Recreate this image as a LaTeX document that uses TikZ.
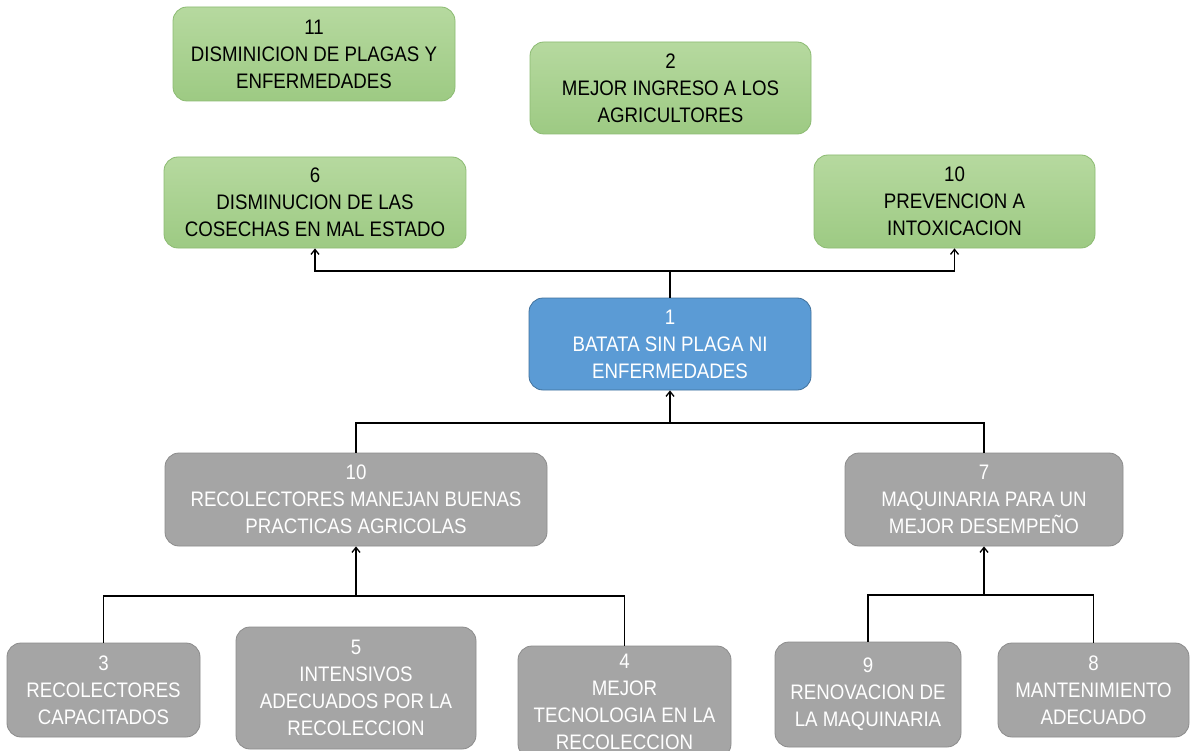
\documentclass[tikz,border=0pt]{standalone}
\usepackage{fontspec}
\setmainfont{Liberation Sans}[FakeStretch=0.89]
\usetikzlibrary{arrows.meta}
\definecolor{gtop}{HTML}{B6D99F}
\definecolor{gbot}{HTML}{9DCA83}
\definecolor{gdraw}{HTML}{8CBB72}
\definecolor{bfill}{HTML}{5B9BD5}
\definecolor{bdraw}{HTML}{41719C}
\definecolor{grfill}{HTML}{A5A5A5}
\definecolor{grdraw}{HTML}{8C8C8C}
\begin{document}
\begin{tikzpicture}[x=1pt,y=-1pt,
  box/.style={rounded corners=14pt, align=center, inner sep=0pt, line width=0.8pt,
    font=\fontsize{21}{27}\selectfont},
  gbox/.style={box, draw=gdraw, top color=gtop, bottom color=gbot, text=black},
  bbox/.style={box, draw=bdraw, fill=bfill, text=white},
  grbox/.style={box, draw=grdraw, fill=grfill, text=white},
  conn/.style={line width=1.3pt, black},
  arr/.style={conn, -{Straight Barb[length=5pt,width=8pt]}}]
\useasboundingbox (0,0) rectangle (1190,751);
\clip (0,0) rectangle (1190,751);
\fill[white] (0,0) rectangle (1190,751);

% top effects
\node[gbox, minimum width=282pt, minimum height=94pt] (n11) at (314,54) {11\\DISMINICION DE PLAGAS Y\\ENFERMEDADES};
\node[gbox, minimum width=281pt, minimum height=92pt] (n2) at (670.5,88) {2\\MEJOR INGRESO A LOS\\AGRICULTORES};
\node[gbox, minimum width=302pt, minimum height=91pt] (n6) at (315,202.5) {6\\DISMINUCION DE LAS\\COSECHAS EN MAL ESTADO};
\node[gbox, minimum width=281pt, minimum height=93pt] (n10t) at (954.5,201.5) {10\\PREVENCION A\\INTOXICACION};

% central
\node[bbox, minimum width=282pt, minimum height=92pt] (n1) at (670,344) {1\\BATATA SIN PLAGA NI\\ENFERMEDADES};

% means
\node[grbox, minimum width=382pt, minimum height=93pt] (n10g) at (356,499.5) {10\\RECOLECTORES MANEJAN BUENAS\\PRACTICAS AGRICOLAS};
\node[grbox, minimum width=278pt, minimum height=93pt] (n7) at (984,499.5) {7\\MAQUINARIA PARA UN\\MEJOR DESEMPEÑO};

% bottom
\node[grbox, minimum width=193pt, minimum height=94pt] (n3) at (103.5,690) {3\\RECOLECTORES\\CAPACITADOS};
\node[grbox, minimum width=240pt, minimum height=122pt] (n5) at (356,688) {5\\INTENSIVOS\\ADECUADOS POR LA\\RECOLECCION};
\node[grbox, minimum width=213pt, minimum height=112pt] (n4) at (624.5,702) {4\\MEJOR\\TECNOLOGIA EN LA\\RECOLECCION};
\node[grbox, minimum width=186pt, minimum height=105pt] (n9) at (868,694.5) {9\\RENOVACION DE\\LA MAQUINARIA};
\node[grbox, minimum width=191pt, minimum height=94pt] (n8) at (1093.5,690) {8\\MANTENIMIENTO\\ADECUADO};

% connectors
\coordinate (h1) at (0,271);
\coordinate (h2) at (0,423);
\coordinate (h3) at (0,596);
\coordinate (h4) at (0,595);

\draw[conn] (n1.north) -- (n1.north |- h1) coordinate (j1);
\draw[arr] (j1) -| (n6.south);
\draw[arr] (j1) -| (n10t.south);

\draw[conn] (n10g.north) -- (n10g.north |- h2) -- (n7.north |- h2) -- (n7.north);
\draw[arr] (n1.south |- h2) -- (n1.south);

\draw[conn] (n3.north) -- (n3.north |- h3) -- (n4.north |- h3) -- (n4.north);
\draw[arr] (n10g.south |- h3) -- (n10g.south);

\draw[conn] (n9.north) -- (n9.north |- h4) -- (n8.north |- h4) -- (n8.north);
\draw[arr] (n7.south |- h4) -- (n7.south);
\end{tikzpicture}
\end{document}
